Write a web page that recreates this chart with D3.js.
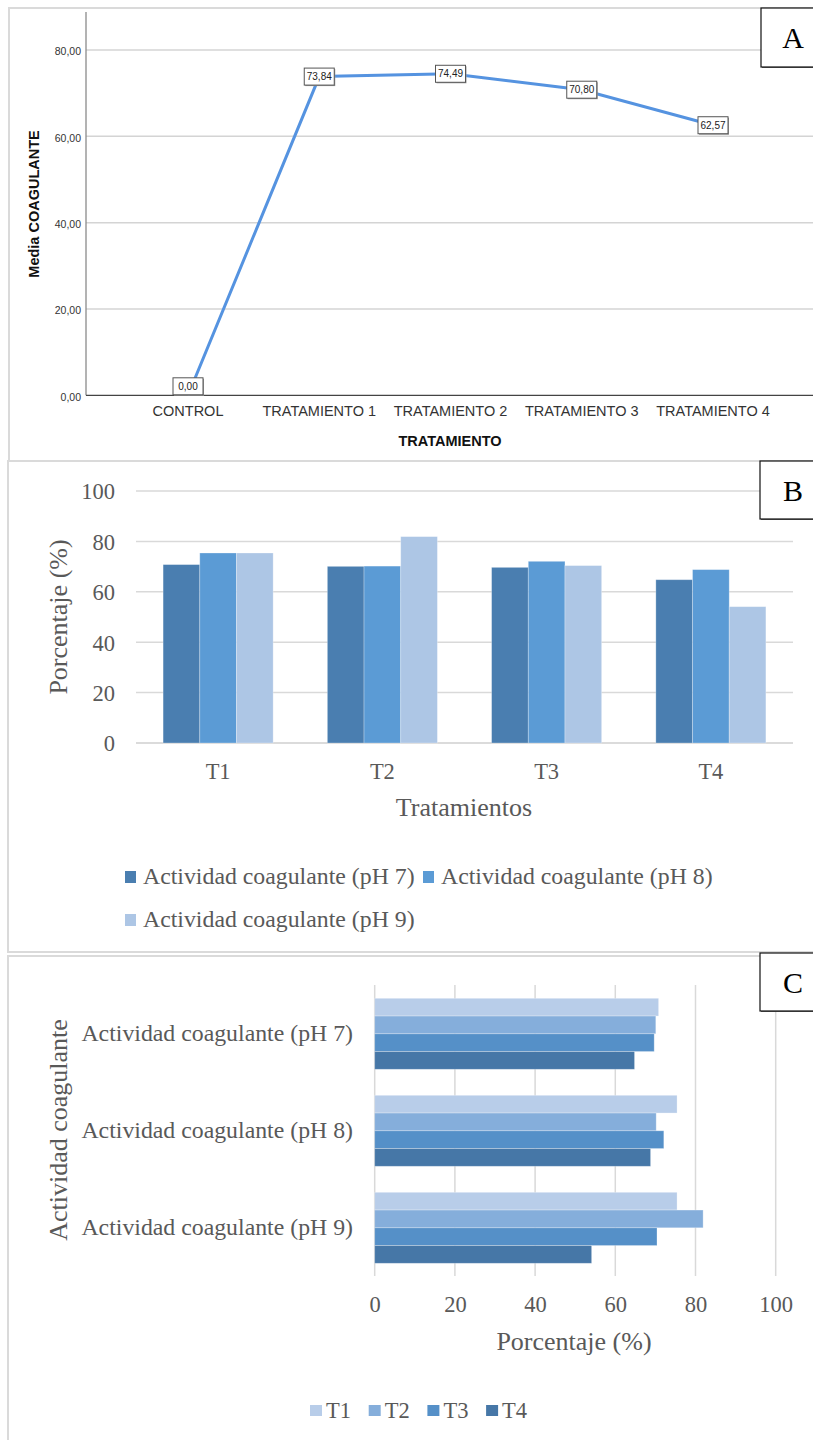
<!DOCTYPE html>
<html>
<head>
<meta charset="utf-8">
<script src="https://cdn.jsdelivr.net/npm/d3@7/dist/d3.min.js"></script>
<style>
  html, body { margin: 0; padding: 0; background: #fff; }
  svg { display: block; }
</style>
</head>
<body>
<script>
// Panel A: mean coagulant activity by treatment
const categoriesA = ["CONTROL", "TRATAMIENTO 1", "TRATAMIENTO 2", "TRATAMIENTO 3", "TRATAMIENTO 4"];
const meanCoagulant = [0.00, 73.84, 74.49, 70.80, 62.57];
const ticksA = [0, 20, 40, 60, 80];

// Panels B and C: coagulant activity (%) per treatment and pH
const treatments = ["T1", "T2", "T3", "T4"];
const phLabels = ["Actividad coagulante (pH 7)", "Actividad coagulante (pH 8)", "Actividad coagulante (pH 9)"];
const activityPH7 = [70.8, 70.1, 69.7, 64.8];
const activityPH8 = [75.4, 70.2, 72.1, 68.8];
const activityPH9 = [75.4, 81.9, 70.4, 54.1];
const ticksPct = [0, 20, 40, 60, 80, 100];

const phColors = ["#4a7eb0", "#5b9bd5", "#adc6e5"];
const tColors = ["#b8cde9", "#85aedb", "#5590c8", "#4677a7"];

const serif = "'Liberation Serif', 'Times New Roman', serif";
const sans = "'Liberation Sans', Arial, sans-serif";
const textGray = "#595959";

const W = 813, H = 1440;
const svg = d3.select("body").append("svg").attr("width", W).attr("height", H);

// panel frames
const frames = [
  { x: 9, y: 8, w: 830, h: 453 },
  { x: 8, y: 461, w: 830, h: 491 },
  { x: 8, y: 956, w: 830, h: 500 }
];
svg.selectAll("rect.frame").data(frames).join("rect")
  .attr("class", "frame")
  .attr("x", d => d.x).attr("y", d => d.y)
  .attr("width", d => d.w).attr("height", d => d.h)
  .attr("fill", "none").attr("stroke", "#dadada").attr("stroke-width", 2);

// ---------- Panel A ----------
const gA = svg.append("g");
const yA = d3.scaleLinear().domain([0, 80]).range([395.3, 50]);
const xA = d3.scalePoint().domain(categoriesA).range([188, 713]);
const commaFmt = d3.formatLocale({ decimal: ",", thousands: ".", grouping: [3], currency: ["", ""] }).format(".2f");

gA.selectAll("line.grid").data(ticksA.filter(t => t > 0)).join("line")
  .attr("x1", 86).attr("x2", W).attr("y1", d => yA(d)).attr("y2", d => yA(d))
  .attr("stroke", "#d4d4d4").attr("stroke-width", 1.5);

const axA = gA.append("g").attr("transform", "translate(86,0)")
  .call(d3.axisLeft(yA).tickValues(ticksA).tickFormat(commaFmt).tickSize(0).tickPadding(5));
axA.select(".domain").remove();
axA.selectAll("text").attr("font-family", sans).attr("font-size", 10.5).attr("fill", "#333").attr("dy", "0.45em");

gA.append("line").attr("x1", 86).attr("x2", 86).attr("y1", 12).attr("y2", yA(0))
  .attr("stroke", "#8a8a8a").attr("stroke-width", 1.3);
gA.append("line").attr("x1", 86).attr("x2", W).attr("y1", yA(0)).attr("y2", yA(0))
  .attr("stroke", "#444").attr("stroke-width", 1.3);

gA.selectAll("text.cat").data(categoriesA).join("text")
  .attr("x", d => xA(d)).attr("y", 416)
  .attr("text-anchor", "middle").attr("font-family", sans).attr("font-size", 14.5)
  .attr("fill", "#333").text(d => d);

gA.append("text").attr("x", 450).attr("y", 446).attr("text-anchor", "middle")
  .attr("font-family", sans).attr("font-weight", "bold").attr("font-size", 14.5).attr("fill", "#111")
  .text("TRATAMIENTO");
gA.append("text").attr("transform", "translate(39,204) rotate(-90)").attr("text-anchor", "middle")
  .attr("font-family", sans).attr("font-weight", "bold").attr("font-size", 14.5).attr("fill", "#111")
  .text("Media COAGULANTE");

const ptsA = categoriesA.map((c, i) => ({ c, v: meanCoagulant[i] }));
gA.append("path").datum(ptsA)
  .attr("d", d3.line().x(d => xA(d.c)).y(d => yA(d.v)))
  .attr("fill", "none").attr("stroke", "#5593e0").attr("stroke-width", 3);

const boxW = 30, boxH = 17;
const lbl = gA.selectAll("g.lbl").data(ptsA).join("g").attr("class", "lbl")
  .attr("transform", d => {
    const cy = Math.min(yA(d.v), yA(0) - boxH / 2 - 0.5);
    return `translate(${xA(d.c)},${cy})`;
  });
lbl.append("rect").attr("x", -boxW / 2 + 1).attr("y", -boxH / 2 + 1).attr("width", boxW).attr("height", boxH)
  .attr("fill", "#9a9a9a");
lbl.append("rect").attr("x", -boxW / 2).attr("y", -boxH / 2).attr("width", boxW).attr("height", boxH)
  .attr("fill", "#fff").attr("stroke", "#555").attr("stroke-width", 1);
lbl.append("text").attr("text-anchor", "middle").attr("dy", "0.36em")
  .attr("font-family", sans).attr("font-size", 10).attr("fill", "#222")
  .text(d => commaFmt(d.v));

// ---------- Panel B ----------
const gB = svg.append("g");
const yB = d3.scaleLinear().domain([0, 100]).range([743, 491]);
const xB = d3.scaleBand().domain(treatments).range([136, 793]);
const xSub = d3.scaleBand().domain(phLabels).range([xB.bandwidth() * 0.165, xB.bandwidth() * 0.835]);
const seriesPH = [activityPH7, activityPH8, activityPH9];

gB.selectAll("line.grid").data(ticksPct).join("line")
  .attr("x1", 136).attr("x2", 793).attr("y1", d => yB(d)).attr("y2", d => yB(d))
  .attr("stroke", d => d === 0 ? "#cfcfcf" : "#d9d9d9").attr("stroke-width", 1.5);

const axB = gB.append("g").attr("transform", "translate(115,0)")
  .call(d3.axisLeft(yB).tickValues(ticksPct).tickSize(0).tickPadding(0));
axB.select(".domain").remove();
axB.selectAll("text").attr("font-family", serif).attr("font-size", 22.5).attr("fill", textGray).attr("dy", "0.35em");

const groupsB = gB.selectAll("g.grp").data(treatments).join("g")
  .attr("transform", d => `translate(${xB(d)},0)`);
groupsB.selectAll("rect").data((t, ti) => phLabels.map((p, pi) => ({ p, pi, v: seriesPH[pi][ti] }))).join("rect")
  .attr("x", d => xSub(d.p)).attr("width", xSub.bandwidth())
  .attr("y", d => yB(d.v)).attr("height", d => yB(0) - yB(d.v))
  .attr("fill", d => phColors[d.pi]).attr("stroke", "#fff").attr("stroke-opacity", 0.35).attr("stroke-width", 0.8);

gB.selectAll("text.cat").data(treatments).join("text")
  .attr("x", d => xB(d) + xB.bandwidth() / 2).attr("y", 779)
  .attr("text-anchor", "middle").attr("font-family", serif).attr("font-size", 22.5).attr("fill", textGray)
  .text(d => d);
gB.append("text").attr("x", 464).attr("y", 816).attr("text-anchor", "middle")
  .attr("font-family", serif).attr("font-size", 26).attr("fill", textGray).text("Tratamientos");
gB.append("text").attr("transform", "translate(67,617) rotate(-90)").attr("text-anchor", "middle")
  .attr("font-family", serif).attr("font-size", 26).attr("fill", textGray).text("Porcentaje (%)");

// legend B
const legB = [
  { x: 125, y: 871, tx: 143, ty: 884 },
  { x: 423, y: 871, tx: 441, ty: 884 },
  { x: 125, y: 914, tx: 143, ty: 927 }
];
const lgB = gB.selectAll("g.leg").data(phLabels).join("g");
lgB.append("rect").attr("x", (d, i) => legB[i].x).attr("y", (d, i) => legB[i].y)
  .attr("width", 11).attr("height", 12).attr("fill", (d, i) => phColors[i]);
lgB.append("text").attr("x", (d, i) => legB[i].tx).attr("y", (d, i) => legB[i].ty)
  .attr("font-family", serif).attr("font-size", 23.8).attr("fill", textGray).text(d => d);

// ---------- Panel C ----------
const gC = svg.append("g");
const xC = d3.scaleLinear().domain([0, 100]).range([374.7, 775.7]);
const yC = d3.scaleBand().domain(phLabels).range([985, 1276]);
const ySub = d3.scaleBand().domain(treatments).range([yC.bandwidth() * 0.137, yC.bandwidth() * 0.869]);

gC.selectAll("line.grid").data(ticksPct).join("line")
  .attr("x1", d => xC(d)).attr("x2", d => xC(d)).attr("y1", 985).attr("y2", 1276)
  .attr("stroke", "#d9d9d9").attr("stroke-width", 1.5);

const groupsC = gC.selectAll("g.grp").data(phLabels).join("g")
  .attr("transform", d => `translate(0,${yC(d)})`);
groupsC.selectAll("rect").data((p, pi) => treatments.map((t, ti) => ({ t, ti, v: seriesPH[pi][ti] }))).join("rect")
  .attr("x", xC(0)).attr("width", d => xC(d.v) - xC(0))
  .attr("y", d => ySub(d.t)).attr("height", ySub.bandwidth())
  .attr("fill", d => tColors[d.ti]).attr("stroke", "#fff").attr("stroke-opacity", 0.35).attr("stroke-width", 0.8);

const axC = gC.append("g").attr("transform", "translate(0,1312)")
  .call(d3.axisBottom(xC).tickValues(ticksPct).tickSize(0).tickPadding(0));
axC.select(".domain").remove();
axC.selectAll("text").attr("font-family", serif).attr("font-size", 22.5).attr("fill", textGray).attr("dy", 0);

gC.selectAll("text.cat").data(phLabels).join("text")
  .attr("x", 353).attr("y", d => yC(d) + yC.bandwidth() / 2)
  .attr("dy", "0.3em").attr("text-anchor", "end")
  .attr("font-family", serif).attr("font-size", 23.8).attr("fill", textGray).text(d => d);

gC.append("text").attr("x", 574).attr("y", 1350).attr("text-anchor", "middle")
  .attr("font-family", serif).attr("font-size", 26).attr("fill", textGray).text("Porcentaje (%)");
gC.append("text").attr("transform", "translate(67,1130) rotate(-90)").attr("text-anchor", "middle")
  .attr("font-family", serif).attr("font-size", 26).attr("fill", textGray).text("Actividad coagulante");

// legend C
const lgC = gC.selectAll("g.leg").data(treatments).join("g")
  .attr("transform", (d, i) => `translate(${310 + i * 58.7},0)`);
lgC.append("rect").attr("x", 0).attr("y", 1405).attr("width", 12).attr("height", 11)
  .attr("fill", (d, i) => tColors[i]);
lgC.append("text").attr("x", 16).attr("y", 1418)
  .attr("font-family", serif).attr("font-size", 22.5).attr("fill", textGray).text(d => d);

// panel letters
const letters = [
  { t: "A", x: 761, y: 8, h: 59 },
  { t: "B", x: 760, y: 461, h: 58 },
  { t: "C", x: 760, y: 953, h: 58 }
];
const lt = svg.selectAll("g.letter").data(letters).join("g");
lt.append("rect").attr("x", d => d.x + 1).attr("y", d => d.y + 1).attr("width", 70).attr("height", d => d.h)
  .attr("fill", "#666");
lt.append("rect").attr("x", d => d.x).attr("y", d => d.y).attr("width", 70).attr("height", d => d.h)
  .attr("fill", "#fff").attr("stroke", "#111").attr("stroke-width", 1.2);
lt.append("text").attr("x", 793).attr("y", d => d.y + d.h / 2 + 10.5).attr("text-anchor", "middle")
  .attr("font-family", serif).attr("font-size", 30).attr("fill", "#000").text(d => d.t);
</script>
</body>
</html>
